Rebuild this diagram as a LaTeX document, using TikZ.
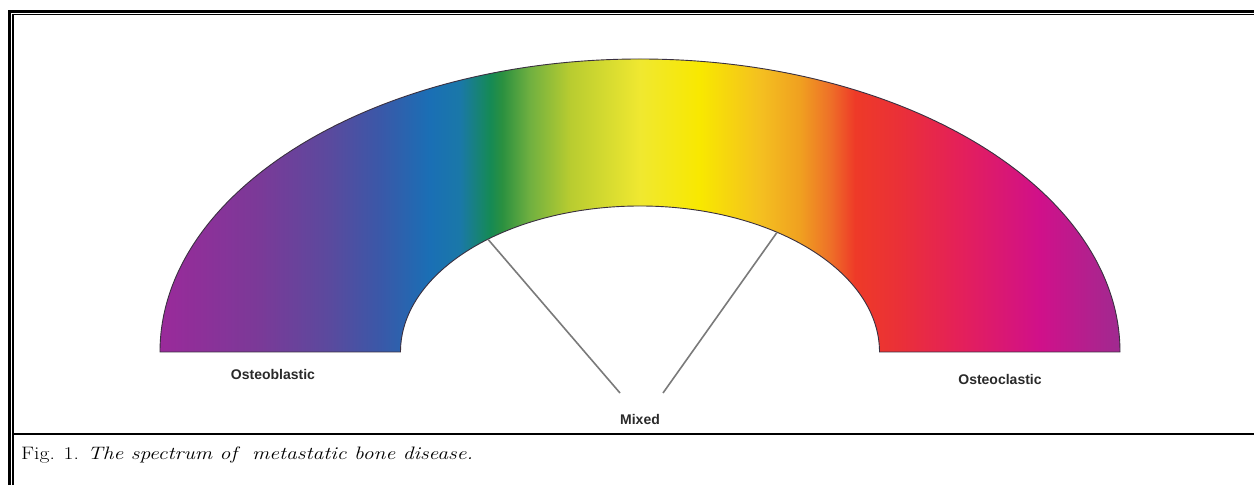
\documentclass[tikz,border=0pt]{standalone}
\usepackage{fontspec}
\newfontfamily\lblfont{Liberation Sans}
\usetikzlibrary{calc}
\definecolor{c160}{HTML}{9A2A9A}
\definecolor{c260}{HTML}{7A3A98}
\definecolor{c330}{HTML}{5A4A9E}
\definecolor{c380}{HTML}{3A58A8}
\definecolor{c430}{HTML}{1A6FB5}
\definecolor{c460}{HTML}{1A78A8}
\definecolor{c490}{HTML}{158A55}
\definecolor{c502}{HTML}{2A9040}
\definecolor{c530}{HTML}{70B040}
\definecolor{c570}{HTML}{B8CC30}
\definecolor{c640}{HTML}{F0E830}
\definecolor{c700}{HTML}{F8E800}
\definecolor{c760}{HTML}{F4C020}
\definecolor{c800}{HTML}{F0A020}
\definecolor{c830}{HTML}{EE7028}
\definecolor{c855}{HTML}{EE3A28}
\definecolor{c900}{HTML}{EA3038}
\definecolor{c960}{HTML}{E4205A}
\definecolor{c1040}{HTML}{D0108A}
\definecolor{c1120}{HTML}{A02A90}
\definecolor{lblgray}{HTML}{2A2A2A}
\definecolor{linegray}{HTML}{7A7A7A}
\definecolor{edge}{HTML}{3A3040}
\pgfdeclarehorizontalshading{spectrum}{100bp}{%
color(0bp)=(c160);
color(25bp)=(c160);
color(30.21bp)=(c260);
color(33.85bp)=(c330);
color(36.46bp)=(c380);
color(39.06bp)=(c430);
color(40.63bp)=(c460);
color(42.19bp)=(c490);
color(42.81bp)=(c502);
color(44.27bp)=(c530);
color(46.35bp)=(c570);
color(50bp)=(c640);
color(53.13bp)=(c700);
color(56.25bp)=(c760);
color(58.33bp)=(c800);
color(59.90bp)=(c830);
color(61.20bp)=(c855);
color(63.54bp)=(c900);
color(66.67bp)=(c960);
color(70.83bp)=(c1040);
color(75bp)=(c1120);
color(100bp)=(c1120)}
\tikzset{
  lbl/.style={font=\lblfont\bfseries\fontsize{14}{16}\selectfont, text=lblgray, inner sep=0pt},
  connector/.style={draw=linegray, line width=1.6pt},
  ring/.style={shading=spectrum, draw=edge, line width=0.9pt},
  framethick/.style={line width=3pt, black},
  framethin/.style={line width=1.3pt, black},
  captionstyle/.style={anchor=base west, inner sep=0pt, xscale=1.2, font=\fontsize{18}{21}\selectfont},
}
\begin{document}
\begin{tikzpicture}[x=1pt,y=1pt]
\useasboundingbox (0,0) rectangle (1254,485);
\fill[white] (0,0) rectangle (1254,485);
% frame
\draw[framethick] (9.5,0) -- (9.5,473.5) -- (1254,473.5);
\draw[framethin] (13,0) -- (13,470.3) -- (1254,470.3);
\draw[line width=2.2pt] (13,51) -- (1254,51);
% spectrum ring
\path[ring] (160,133) arc[start angle=180, end angle=0, x radius=480, y radius=293]
  -- (879.5,133) arc[start angle=0, end angle=180, x radius=239.5, y radius=146] -- cycle;
% labels
\node[lbl] (ob) at (273,111) {Osteoblastic};
\node[lbl] (oc) at (1000,106) {Osteoclastic};
\node[lbl] (mx) at (640,66) {Mixed};
% connectors
\coordinate (ia) at (488,245.7);
\coordinate (ib) at (777,252.6);
\coordinate (ea) at (620,92);
\coordinate (eb) at (663,92);
\draw[connector] (ia) -- (ea);
\draw[connector] (ib) -- (eb);
% caption
\node[captionstyle] (cap) at (21,26) {Fig. 1. \textit{The spectrum of\ \ metastatic bone disease.}};
\end{tikzpicture}
\end{document}
